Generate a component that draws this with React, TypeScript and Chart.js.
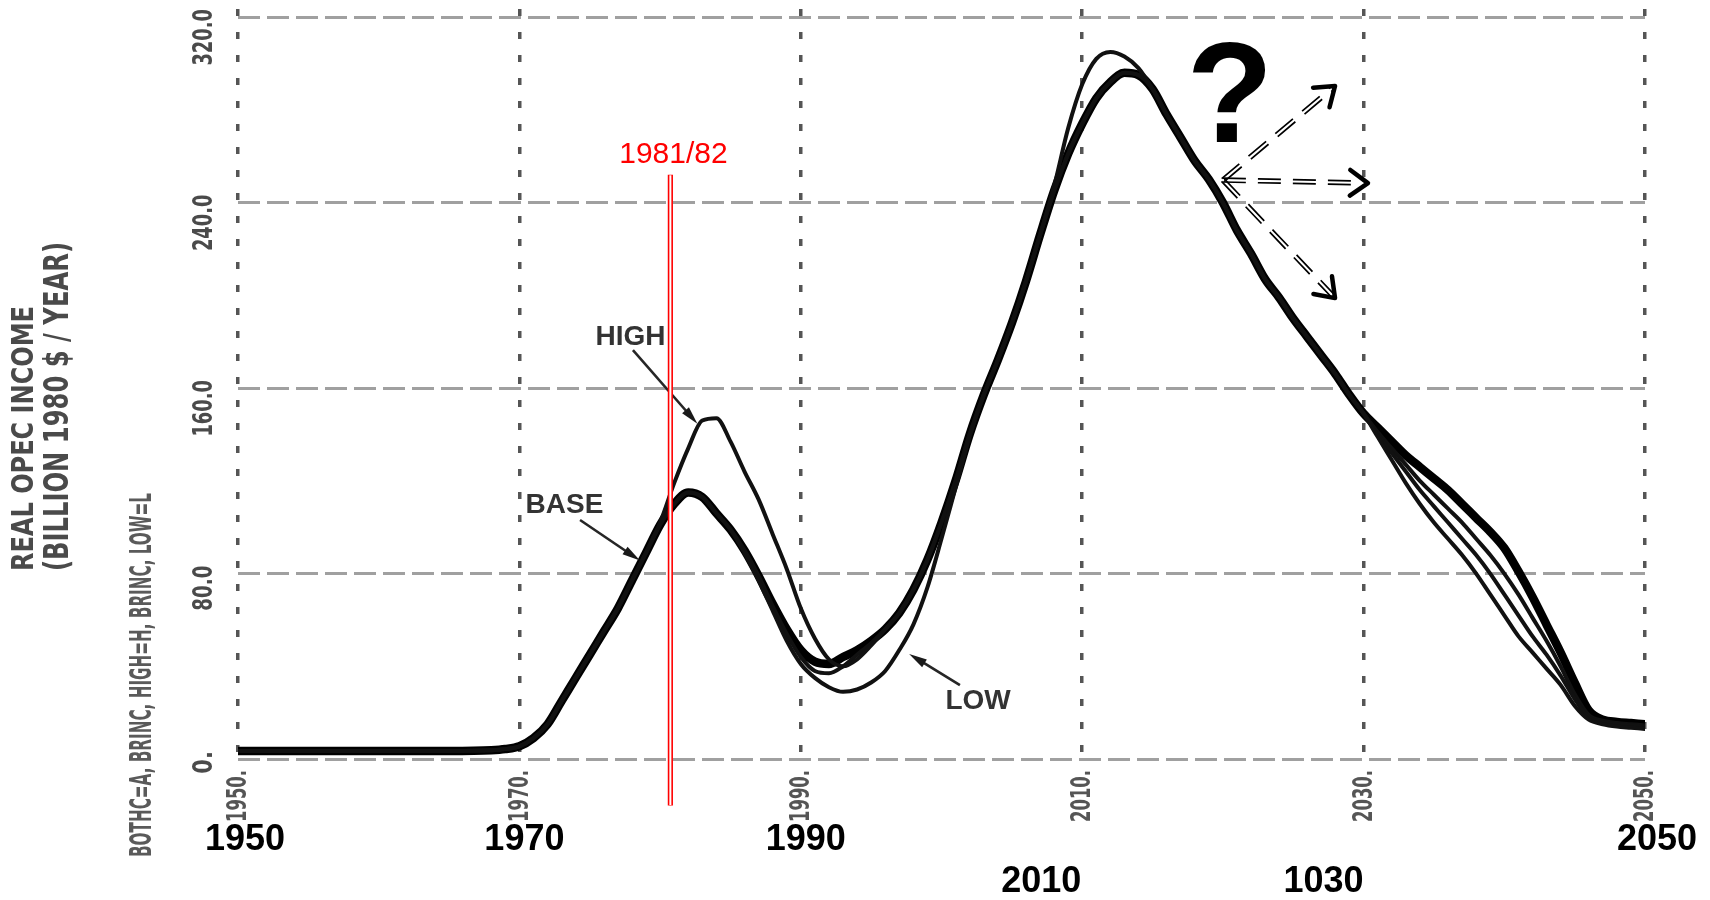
import React, { useEffect, useRef } from "react";
import { Chart, registerables } from "chart.js";

Chart.register(...registerables);

// ---------- data ----------
const YEARS = [
  1950, 1955, 1960, 1965,
  1968, 1969,
  1970, 1971, 1972, 1973, 1974, 1975, 1976, 1977, 1978, 1979,
  1980, 1981, 1982, 1983, 1984, 1985, 1986, 1987, 1988, 1989,
  1990, 1991, 1992, 1993, 1994, 1995, 1996, 1997, 1998, 1999,
  2000, 2001, 2002, 2003, 2004, 2005, 2006, 2007, 2008, 2009,
  2010, 2011, 2012, 2013, 2014, 2015, 2016, 2017, 2018, 2019,
  2020, 2021, 2022, 2023, 2024, 2025, 2026, 2027, 2028, 2029,
  2030, 2031, 2032, 2033, 2034, 2035, 2036, 2037, 2038, 2039,
  2040, 2041, 2042, 2043, 2044, 2045, 2046, 2047, 2048, 2049,
  2050,
];

const BASE_INCOME = [
  3.5, 3.5, 3.5, 3.5,
  3.8, 4.3,
  5.5, 9, 15, 25, 35, 45, 55, 65, 77, 89,
  101, 110, 115, 113, 106, 99, 90, 79, 67, 56,
  47, 42, 41, 44, 47, 51, 56, 63, 73, 86,
  102, 120, 140, 157, 172, 188, 206, 226, 245, 261,
  274, 285, 292, 296, 295, 289, 278, 268, 258, 250,
  240, 228, 218, 207, 199, 190, 182, 174, 166, 157,
  149, 143, 137, 131, 126, 121, 116, 110, 104, 98,
  91, 81, 70, 58, 46, 33, 21, 17, 16, 15.5,
  15,
];

const HIGH_INCOME = [
  3.5, 3.5, 3.5, 3.5,
  3.8, 4.3,
  5.5, 9, 15, 25, 35, 45, 55, 65, 77, 89,
  102, 119, 134, 146, 147, 137, 124, 112, 97, 82,
  65, 52, 43, 40, 43, 49, 56, 63, 73, 86,
  102, 120, 140, 157, 172, 188, 206, 226, 245, 261,
  274, 285, 292, 296, 295, 289, 278, 268, 258, 250,
  240, 228, 218, 207, 199, 190, 182, 174, 166, 157,
  149, 140, 132, 124, 116, 109, 102, 95, 88, 80,
  71, 62, 53, 45, 36, 26, 18, 16, 15, 14.5,
  14,
];

const LOW_INCOME = [
  3.5, 3.5, 3.5, 3.5,
  3.8, 4.3,
  5.5, 9, 15, 25, 35, 45, 55, 65, 77, 89,
  101, 110, 115, 113, 106, 99, 89, 77, 64, 51,
  41, 35, 31, 29, 30, 33, 38, 47, 58, 74,
  95, 117, 139, 157, 172, 188, 206, 226, 245, 261,
  274, 285, 292, 296, 295, 289, 278, 268, 258, 250,
  240, 228, 218, 207, 199, 190, 182, 174, 166, 157,
  149, 139, 129, 119, 110, 102, 95, 88, 80, 71,
  62, 53, 46, 39, 32, 23, 17, 15, 14, 13.5,
  13,
];

const ALT_INCOME = [
  3.5, 3.5, 3.5, 3.5,
  3.8, 4.3,
  5.5, 9, 15, 25, 35, 45, 55, 65, 77, 89,
  101, 110, 115, 113, 106, 99, 90, 79, 66, 54,
  44, 38, 37, 40, 45, 50, 56, 63, 73, 86,
  102, 120, 140, 157, 172, 188, 206, 226, 247, 272,
  291, 302, 305, 303, 298, 289, 278, 268, 258, 250,
  240, 228, 218, 207, 199, 190, 182, 174, 166, 157,
  149, 141, 134, 127, 120, 114, 108, 102, 95, 88,
  80, 71, 61, 51, 40, 28, 19, 16.5, 15.5, 15,
  14.5,
];

// tick labels
const Y_TICK_VALUES = [0, 80, 160, 240, 320];
const Y_TICK_LABELS = ["0.", "80.0", "160.0", "240.0", "320.0"];
const X_TICK_VALUES = [1950, 1970, 1990, 2010, 2030, 2050];
const X_TICK_LABELS = ["1950.", "1970.", "1990.", "2010.", "2030.", "2050."];
const BIG_YEAR_LABELS = ["1950", "1970", "1990", "2010", "1030", "2050"];

// texts
const Y_TITLE_1 = "REAL OPEC INCOME";
const Y_TITLE_2 = "(BILLION 1980 $ / YEAR)";
const KEY_TEXT = "BOTHC=A, BRINC, HIGH=H, BRINC, LOW=L";
const CURVE_LABELS = ["HIGH", "BASE", "LOW"];
const MARK_TEXT = "1981/82";
const QUESTION = "?";

// ---------- layout / style (not data) ----------
const BIG_LABEL_DX = [7, 5, 5, -41, -40, 12];
const BIG_LABEL_ROW = [0, 0, 0, 1, 1, 0];
const CURVE_LABEL_AT = [
  [1977.9, 182],
  [1973.2, 109.5],
  [2002.6, 25],
];
const CURVE_ARROWS = [
  [[1978.07, 176.4], [1982.65, 144.6]],
  [[1974.31, 103.1], [1978.57, 85.6]],
  [[2001.31, 31.9], [1997.7, 45.3]],
];
const MARK_YEAR = 1980.73;
const MARK_TOP = 252;
const MARK_BOTTOM = -20;
const MARK_TEXT_AT = [1980.95, 260.5];
const QUESTION_AT = [2020.5, 266];
const FAN_ORIGIN = [2020.0, 249.7];
const FAN_TIPS = [
  [2027.97, 290.3],
  [2030.31, 248.4],
  [2027.97, 198.8],
];

const SCAN_FONT = '"DejaVu Sans Condensed", "DejaVu Sans", sans-serif';
const ARIAL = '"Liberation Sans", Arial, sans-serif';
const SCAN_GRAY = "#4a4a4a";

function rotText(
  ctx: CanvasRenderingContext2D,
  text: string,
  cx: number,
  yBottom: number,
  cap: number,
  len: number,
  color: string
) {
  ctx.save();
  ctx.font = `bold ${cap / 0.73}px ${SCAN_FONT}`;
  ctx.filter = "blur(0.5px)";
  ctx.translate(cx, yBottom);
  ctx.rotate(-Math.PI / 2);
  const w = ctx.measureText(text).width;
  ctx.scale(len / w, 1);
  ctx.fillStyle = color;
  ctx.textAlign = "left";
  ctx.textBaseline = "middle";
  ctx.fillText(text, 0, 0);
  ctx.restore();
}

function thinArrow(ctx: CanvasRenderingContext2D, x0: number, y0: number, x1: number, y1: number) {
  const dx = x1 - x0, dy = y1 - y0;
  const L = Math.hypot(dx, dy);
  const ux = dx / L, uy = dy / L, nx = -uy, ny = ux;
  ctx.save();
  ctx.strokeStyle = "#262626";
  ctx.fillStyle = "#1a1a1a";
  ctx.lineWidth = 2.6;
  ctx.beginPath();
  ctx.moveTo(x0, y0);
  ctx.lineTo(x1 - ux * 10, y1 - uy * 10);
  ctx.stroke();
  ctx.beginPath();
  ctx.moveTo(x1, y1);
  ctx.lineTo(x1 - ux * 18 + nx * 4.5, y1 - uy * 18 + ny * 4.5);
  ctx.lineTo(x1 - ux * 18 - nx * 4.5, y1 - uy * 18 - ny * 4.5);
  ctx.closePath();
  ctx.fill();
  ctx.restore();
}

function fanArrow(ctx: CanvasRenderingContext2D, x0: number, y0: number, x1: number, y1: number) {
  const dx = x1 - x0, dy = y1 - y0;
  const L = Math.hypot(dx, dy);
  const ux = dx / L, uy = dy / L, nx = -uy, ny = ux;
  const off = 1.9;
  ctx.save();
  ctx.strokeStyle = "#000";
  ctx.lineWidth = 1.7;
  ctx.setLineDash([23, 12]);
  for (const s of [-1, 1]) {
    ctx.beginPath();
    ctx.moveTo(x0 + nx * off * s, y0 + ny * off * s);
    ctx.lineTo(x1 - ux * 3 + nx * off * s, y1 - uy * 3 + ny * off * s);
    ctx.stroke();
  }
  ctx.setLineDash([]);
  ctx.lineWidth = 4.5;
  ctx.lineCap = "round";
  ctx.lineJoin = "round";
  const a = 0.62, hl = 22;
  const bx = -ux, by = -uy;
  const r1x = bx * Math.cos(a) - by * Math.sin(a), r1y = bx * Math.sin(a) + by * Math.cos(a);
  const r2x = bx * Math.cos(-a) - by * Math.sin(-a), r2y = bx * Math.sin(-a) + by * Math.cos(-a);
  ctx.beginPath();
  ctx.moveTo(x1 + r1x * hl, y1 + r1y * hl);
  ctx.lineTo(x1, y1);
  ctx.lineTo(x1 + r2x * hl, y1 + r2y * hl);
  ctx.stroke();
  ctx.restore();
}

const overlayPlugin = {
  id: "overlay",
  afterDraw(chart: any) {
    const ctx: CanvasRenderingContext2D = chart.ctx;
    const xs = chart.scales.x;
    const ys = chart.scales.y;
    const area = chart.chartArea;
    const X = (v: number) => xs.getPixelForValue(v);
    const Y = (v: number) => ys.getPixelForValue(v);

    // scanned axis texts
    rotText(ctx, Y_TITLE_1, area.left - 213, area.top + 562, 22, 265, SCAN_GRAY);
    rotText(ctx, Y_TITLE_2, area.left - 179, area.top + 562, 24, 329, SCAN_GRAY);
    rotText(ctx, KEY_TEXT, area.left - 95, area.bottom + 91, 22, 364, "#5a5a5a");
    Y_TICK_VALUES.forEach((v, i) => {
      const t = Y_TICK_LABELS[i];
      const len = t.length * 11.3;
      rotText(ctx, t, area.left - 33, Y(v) - 8 + len, 20, len, SCAN_GRAY);
    });
    X_TICK_VALUES.forEach((v, i) => {
      rotText(ctx, X_TICK_LABELS[i], X(v) + 1, area.bottom + 56, 20, 52, "#555555");
    });

    // big bold year labels
    ctx.save();
    ctx.font = `bold 36px ${ARIAL}`;
    ctx.fillStyle = "#000";
    ctx.textAlign = "center";
    ctx.textBaseline = "middle";
    BIG_YEAR_LABELS.forEach((t, i) => {
      const y = area.bottom + (BIG_LABEL_ROW[i] === 0 ? 74 : 116);
      ctx.fillText(t, X(X_TICK_VALUES[i]) + BIG_LABEL_DX[i], y);
    });
    ctx.restore();

    // curve labels and arrows
    ctx.save();
    ctx.font = `bold 28px ${ARIAL}`;
    ctx.fillStyle = "#333";
    ctx.textAlign = "center";
    ctx.textBaseline = "middle";
    CURVE_LABELS.forEach((t, i) => {
      ctx.fillText(t, X(CURVE_LABEL_AT[i][0]), Y(CURVE_LABEL_AT[i][1]));
    });
    ctx.restore();
    CURVE_ARROWS.forEach(([p0, p1]) => {
      thinArrow(ctx, X(p0[0]), Y(p0[1]), X(p1[0]), Y(p1[1]));
    });

    // red 1981/82 marker
    const mx = X(MARK_YEAR);
    ctx.save();
    ctx.strokeStyle = "#ff0000";
    ctx.lineWidth = 5.2;
    ctx.beginPath();
    ctx.moveTo(mx, Y(MARK_TOP));
    ctx.lineTo(mx, Y(MARK_BOTTOM));
    ctx.stroke();
    ctx.strokeStyle = "#ffffff";
    ctx.lineWidth = 2;
    ctx.beginPath();
    ctx.moveTo(mx, Y(MARK_TOP) + 0.5);
    ctx.lineTo(mx, Y(MARK_BOTTOM) - 0.5);
    ctx.stroke();
    ctx.font = `30px ${ARIAL}`;
    ctx.fillStyle = "#ff0000";
    ctx.textAlign = "center";
    ctx.textBaseline = "middle";
    ctx.fillText(MARK_TEXT, X(MARK_TEXT_AT[0]), Y(MARK_TEXT_AT[1]));
    ctx.restore();

    // question mark and fan of arrows
    ctx.save();
    ctx.font = `bold 142px ${ARIAL}`;
    ctx.fillStyle = "#000";
    ctx.textAlign = "center";
    ctx.textBaseline = "alphabetic";
    ctx.fillText(QUESTION, X(QUESTION_AT[0]), Y(QUESTION_AT[1]));
    ctx.restore();
    FAN_TIPS.forEach((tip) => {
      fanArrow(ctx, X(FAN_ORIGIN[0]), Y(FAN_ORIGIN[1]), X(tip[0]), Y(tip[1]));
    });
  },
};

function series(values: number[]) {
  return YEARS.map((x, i) => ({ x, y: values[i] }));
}

export default function App() {
  const ref = useRef<HTMLCanvasElement>(null);

  useEffect(() => {
    if (!ref.current) return;
    const thin = {
      borderColor: "#111111",
      borderWidth: 4,
      pointRadius: 0,
      fill: false,
      cubicInterpolationMode: "monotone" as const,
      borderJoinStyle: "round" as const,
      borderCapStyle: "round" as const,
    };
    const chart = new Chart(ref.current, {
      type: "line",
      data: {
        datasets: [
          { label: "LOW", data: series(LOW_INCOME), ...thin },
          { label: "HIGH", data: series(HIGH_INCOME), ...thin },
          { label: "ALT", data: series(ALT_INCOME), ...thin },
          { label: "BASE", data: series(BASE_INCOME), ...thin, borderColor: "#000000", borderWidth: 8.5 },
        ],
      },
      options: {
        responsive: false,
        maintainAspectRatio: false,
        animation: false,
        devicePixelRatio: 1,
        layout: { padding: { left: 238, right: 65, top: 9, bottom: 134 } },
        plugins: {
          legend: { display: false },
          tooltip: { enabled: false },
          title: { display: false },
        },
        scales: {
          x: {
            type: "linear",
            min: 1950,
            max: 2050,
            ticks: { display: false, stepSize: 20 },
            grid: { color: "#555555", lineWidth: 3.5, drawTicks: false },
            border: { display: false, dash: [7, 16] },
          },
          y: {
            type: "linear",
            min: -3,
            max: 323.5,
            ticks: { display: false, stepSize: 80, includeBounds: false },
            grid: {
              color: (c: any) =>
                c.tick && Math.abs(c.tick.value % 80) < 0.001 ? "#a0a0a0" : "rgba(0,0,0,0)",
              lineWidth: 3,
              drawTicks: false,
            },
            border: { display: false, dash: [22, 7] },
          },
        },
      },
      plugins: [overlayPlugin],
    });
    return () => chart.destroy();
  }, []);

  return (
    <div style={{ position: "fixed", left: 0, top: 0, width: 1710, height: 900, background: "#ffffff" }}>
      <canvas ref={ref} width={1710} height={900} style={{ display: "block", width: 1710, height: 900 }} />
    </div>
  );
}
